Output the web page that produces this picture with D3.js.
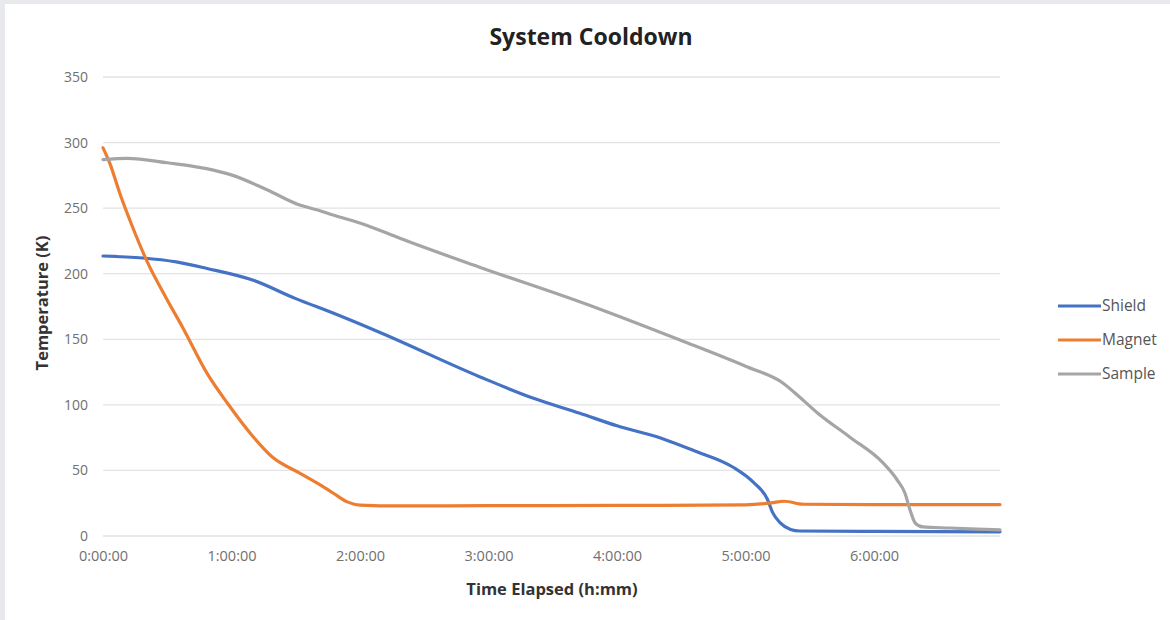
<!DOCTYPE html>
<html>
<head>
<meta charset="utf-8">
<script src="https://cdn.jsdelivr.net/npm/d3@7/dist/d3.min.js"></script>
<style>
  html, body { margin: 0; padding: 0; background: #e7e9ec; }
  #chart { position: absolute; left: 5px; top: 4px; width: 1165px; height: 616px; background: #fff; }
  svg { position: absolute; left: 0; top: 0; }
  text { font-family: 'Open Sans', 'Noto Sans', sans-serif; }
</style>
</head>
<body>
<div id="chart"></div>
<script>
// time in hours, temperature in K
const shieldHours = [0, 0.31, 0.57, 0.81, 1.17, 1.5, 1.79, 2.16, 2.93, 3.35, 3.71, 4.0, 4.36, 4.6, 4.9, 5.06, 5.17, 5.21, 5.27, 5.35, 5.42, 6.0, 6.98]
const shieldTemps = [213.5, 212, 209, 204, 195, 181, 170, 155, 121.5, 105, 93.6, 84, 74, 65, 52.6, 41, 28, 18, 10, 5, 3.8, 3.5, 3.2]

const magnetHours = [0, 0.054, 0.13, 0.23, 0.34, 0.5, 0.62, 0.81, 0.97, 1.17, 1.32, 1.53, 1.69, 1.79, 1.9, 2.0, 2.31, 3.0, 4.0, 5.0, 5.2, 5.3, 5.45, 6.0, 6.98]
const magnetTemps = [296, 284, 261.5, 235.6, 210, 180, 159, 124, 101, 75.5, 60, 48, 39, 32.8, 26, 23.6, 22.9, 23.1, 23.3, 23.8, 25.2, 26.5, 24.2, 24, 24]

const sampleHours = [0, 0.19, 0.5, 0.86, 1.01, 1.28, 1.53, 1.67, 1.79, 2.05, 2.31, 2.93, 3.71, 4.49, 5.01, 5.29, 5.42, 5.56, 5.81, 6.07, 6.18, 6.24, 6.28, 6.32, 6.38, 6.59, 6.98]
const sampleTemps = [287, 288, 284.6, 279, 275, 263.8, 252.4, 248.6, 244.8, 237, 227, 205, 178.6, 149.4, 129, 116.7, 106, 93.8, 75.5, 55.7, 42.7, 32.8, 19.8, 9.9, 6.9, 6.1, 4.6]

const seriesNames = ['Shield', 'Magnet', 'Sample']
const seriesColors = ['#4472c4', '#ed7d31', '#a5a5a5']
const xTicks = [0, 1, 2, 3, 4, 5, 6]
const yTicks = [0, 50, 100, 150, 200, 250, 300, 350]

const W = 1165
const H = 616
// page offsets of the white card
const ox = 5
const oy = 4

const svg = d3.select('#chart').append('svg').attr('width', W).attr('height', H)

const x = d3.scaleLinear().domain([0, 6.98]).range([103 - ox, 1000 - ox])
const y = d3.scaleLinear().domain([0, 350]).range([536 - oy, 77 - oy])

// gridlines
svg.append('g')
  .selectAll('line')
  .data(yTicks).enter().append('line')
  .attr('x1', x(0)).attr('x2', x(6.98))
  .attr('y1', d => y(d)).attr('y2', d => y(d))
  .attr('stroke', '#e3e3e3')
  .attr('stroke-width', 1.3)

// y axis labels
let yAxis = svg.append('g')
  .attr('transform', 'translate(' + (88 - ox) + ',0)')
  .call(d3.axisLeft(y).tickValues(yTicks).tickSize(0).tickPadding(0))
yAxis.select('.domain').remove()
yAxis.selectAll('text').attr('fill', '#707070').style('font-size', '14px')

// x axis labels
let xAxis = svg.append('g')
  .attr('transform', 'translate(0,' + (551 - oy) + ')')
  .call(d3.axisBottom(x).tickValues(xTicks).tickSize(0).tickPadding(0)
    .tickFormat(d => d + ':00:00'))
xAxis.select('.domain').remove()
xAxis.selectAll('text').attr('fill', '#707070').style('font-size', '14.5px')

const series = [
  {name: seriesNames[0], hours: shieldHours, temps: shieldTemps},
  {name: seriesNames[1], hours: magnetHours, temps: magnetTemps},
  {name: seriesNames[2], hours: sampleHours, temps: sampleTemps}
]

const line = d3.line()
  .x(d => x(d[0]))
  .y(d => y(d[1]))
  .curve(d3.curveMonotoneX)

svg.append('g')
  .selectAll('path')
  .data(series).enter().append('path')
  .attr('d', d => line(d.hours.map((h, i) => [h, d.temps[i]])))
  .attr('fill', 'none')
  .attr('stroke', (d, i) => seriesColors[i])
  .attr('stroke-width', 3.2)
  .attr('stroke-linejoin', 'round')
  .attr('stroke-linecap', 'round')

// title
svg.append('text')
  .attr('x', 591 - ox).attr('y', 45 - oy)
  .attr('text-anchor', 'middle')
  .attr('fill', '#222')
  .style('font-size', '23px')
  .style('font-weight', 700)
  .text('System Cooldown')

// axis titles
svg.append('text')
  .attr('x', 552 - ox).attr('y', 595 - oy)
  .attr('text-anchor', 'middle')
  .attr('fill', '#333')
  .style('font-size', '16.5px')
  .style('font-weight', 700)
  .text('Time Elapsed (h:mm)')

svg.append('text')
  .attr('transform', 'translate(' + (48 - ox) + ',' + (303 - oy) + ') rotate(-90)')
  .attr('text-anchor', 'middle')
  .attr('fill', '#333')
  .style('font-size', '16.5px')
  .style('font-weight', 700)
  .text('Temperature (K)')

// legend
let legend = svg.append('g')
  .selectAll('g')
  .data(seriesNames).enter().append('g')
  .attr('transform', (d, i) => 'translate(' + (1058 - ox) + ',' + (306 - oy + i * 34) + ')')

legend.append('line')
  .attr('x1', 0).attr('x2', 43)
  .attr('stroke', (d, i) => seriesColors[i])
  .attr('stroke-width', 3.2)

legend.append('text')
  .attr('x', 44).attr('dy', '.35em')
  .attr('fill', '#555')
  .style('font-size', '15.5px')
  .text(d => d)
</script>
</body>
</html>
